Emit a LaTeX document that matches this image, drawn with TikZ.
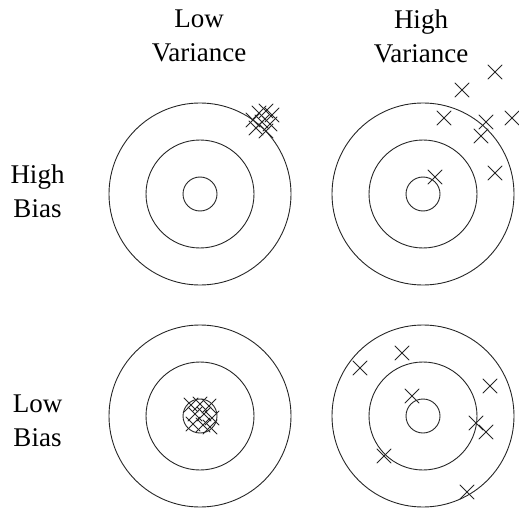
\documentclass[tikz,border=0pt]{standalone}
\usepackage{fontspec}
\setmainfont{Liberation Serif}

\begin{document}
\begin{tikzpicture}[x=1pt,y=-1pt,line cap=round,line join=round,
  ring/.style={draw=black!85,line width=0.9pt},
  heading/.style={anchor=south,align=center,inner sep=0pt,font=\fontsize{27}{34}\selectfont},
  hitmark/.pic={\draw[black!85,line width=0.8pt] (-7,-7) -- (7,7) (-7,7) -- (7,-7);}]
  \useasboundingbox (0,0) rectangle (519,513);
  % column and row labels
  \node[heading] (lowvar) at (199,62) {Low\\Variance};
  \node[heading] (highvar) at (421,63) {High\\Variance};
  \node[heading] (highbias) at (37.5,218) {High\\Bias};
  \node[heading] (lowbias) at (37.5,447) {Low\\Bias};
  % the four targets
  \foreach \cx/\cy in {200/194,423/194,200/416,423/416}
    \draw[ring] (\cx,\cy) circle[radius=91] circle[radius=54] circle[radius=17];
  % high bias, low variance
  \foreach \hx/\hy in {253/120,259/113,266/111,272/115,262/122,270/124,256/128,266/131}
    \pic at (\hx,\hy) {hitmark};
  % high bias, high variance
  \foreach \hx/\hy in {495/72,462/90,444/118,486/122,512/118,481/136,495/173,435/177}
    \pic at (\hx,\hy) {hitmark};
  % low bias, low variance
  \foreach \hx/\hy in {191/405,200/404,209/406,195/414,204/414,212/418,193/424,203/425,210/427}
    \pic at (\hx,\hy) {hitmark};
  % low bias, high variance
  \foreach \hx/\hy in {360/368,402/353,412/396,490/386,476/423,486/432,384/456,467/492}
    \pic at (\hx,\hy) {hitmark};
\end{tikzpicture}
\end{document}
